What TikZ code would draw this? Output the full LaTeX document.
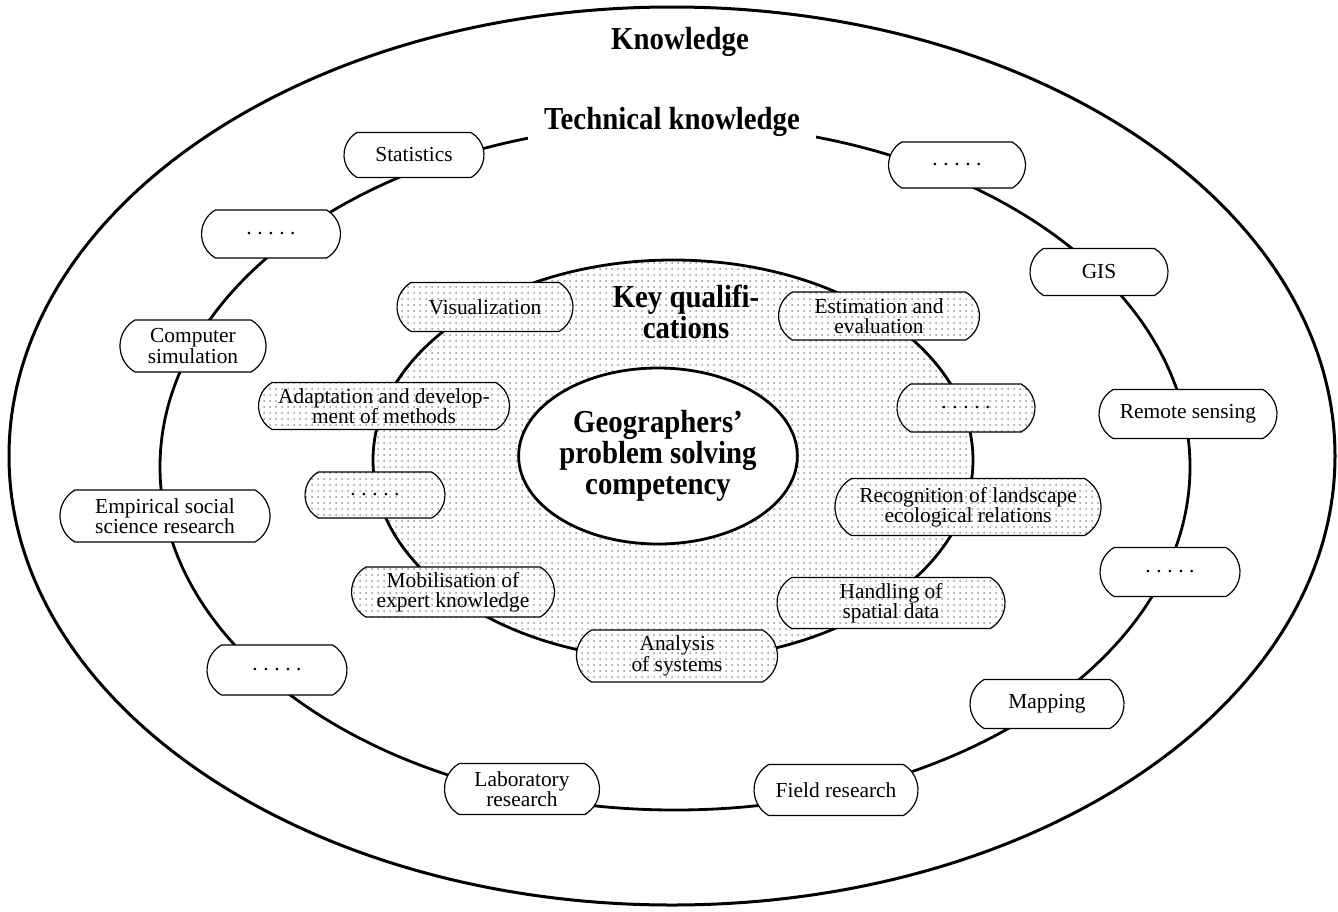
\documentclass[tikz,border=0pt]{standalone}
\usepackage{fontspec}
\setmainfont{Liberation Serif}
\newfontfamily\headfont[FakeStretch=0.9]{Liberation Serif}
\usetikzlibrary{shapes.misc,shapes.geometric,patterns}
\newcommand{\dotrow}{.\kern2.8pt.\kern2.8pt.\kern2.8pt.\kern2.8pt.}

\begin{document}
\begin{tikzpicture}[x=0.5pt, y=-0.5pt,
    ring/.style={line width=1.4pt},
    tbox/.style={draw, fill=white, rounded rectangle, rounded rectangle arc length=120,
        line width=0.6pt, align=center, inner sep=1pt, font=\fontsize{10.7}{10.2}\selectfont},
    qbox/.style={tbox, preaction={fill=white}, pattern=dots, pattern color=black!42},
    head/.style={font=\headfont\bfseries\fontsize{16}{15.5}\selectfont, align=center, inner sep=0pt}]
    \useasboundingbox (0,0) rectangle (1338,911);

    \draw[line width=1.5pt] (672,456) ellipse [x radius=663, y radius=449];
    \draw[ring] (675,467) ellipse [x radius=515, y radius=343];
    \draw[ring, preaction={fill=white}, pattern=dots, pattern color=black!42]
        (673,460) ellipse [x radius=300, y radius=200];

    \node[head] (know) at (680,42) {Knowledge};
    \node[head, fill=white, inner xsep=8pt, inner ysep=3pt] (tech) at (672,122) {Technical knowledge};
    \node[head] (keyq) at (686,312) {Key qualifi-\\cations};
    \node[head, ellipse, draw, fill=white, line width=1.4pt, minimum width=120pt, minimum height=88pt]
        (core) at (658,456) {Geographers’\\problem solving\\competency};

    % technical knowledge
    \node[tbox, minimum width=72pt, minimum height=22.5pt] (stat) at (414,155) {Statistics};
    \node[tbox, minimum width=71.5pt, minimum height=24pt] (tdotsA) at (271,234) {\dotrow};
    \node[tbox, minimum width=75pt, minimum height=26pt] (sim) at (193,346) {Computer\\simulation};
    \node[tbox, minimum width=107pt, minimum height=26pt] (emp) at (165,516) {Empirical social\\science research};
    \node[tbox, minimum width=72pt, minimum height=25pt] (tdotsB) at (277,670) {\dotrow};
    \node[tbox, minimum width=79.5pt, minimum height=25.5pt] (lab) at (522,789) {Laboratory\\research};
    \node[tbox, minimum width=84pt, minimum height=25.5pt] (field) at (836,790) {Field research};
    \node[tbox, minimum width=79pt, minimum height=24.5pt] (map) at (1047,704) {Mapping};
    \node[tbox, minimum width=72pt, minimum height=24.5pt] (tdotsC) at (1170,572) {\dotrow};
    \node[tbox, minimum width=91pt, minimum height=24.5pt] (rs) at (1188,414) {Remote sensing};
    \node[tbox, minimum width=71pt, minimum height=23.5pt] (gis) at (1099,272) {GIS};
    \node[tbox, minimum width=70.5pt, minimum height=23pt] (tdotsD) at (957,165) {\dotrow};

    % key qualifications
    \node[qbox, minimum width=90pt, minimum height=24.5pt] (vis) at (485,307) {Visualization};
    \node[qbox, minimum width=127.5pt, minimum height=23.5pt] (adapt) at (384,406) {Adaptation and develop-\\ment of methods};
    \node[qbox, minimum width=72pt, minimum height=23pt] (qdotsL) at (375,495) {\dotrow};
    \node[qbox, minimum width=103.5pt, minimum height=25pt] (mob) at (453,592) {Mobilisation of\\expert knowledge};
    \node[qbox, minimum width=102.5pt, minimum height=26pt] (anal) at (677,656) {Analysis\\of systems};
    \node[qbox, minimum width=116pt, minimum height=25.5pt] (hand) at (891,603) {Handling of\\spatial data};
    \node[qbox, minimum width=135pt, minimum height=28.5pt] (recog) at (968,507) {Recognition of landscape\\ecological relations};
    \node[qbox, minimum width=71pt, minimum height=24pt] (qdotsR) at (966,408) {\dotrow};
    \node[qbox, minimum width=102.5pt, minimum height=24pt] (est) at (879,316) {Estimation and\\evaluation};
\end{tikzpicture}
\end{document}
